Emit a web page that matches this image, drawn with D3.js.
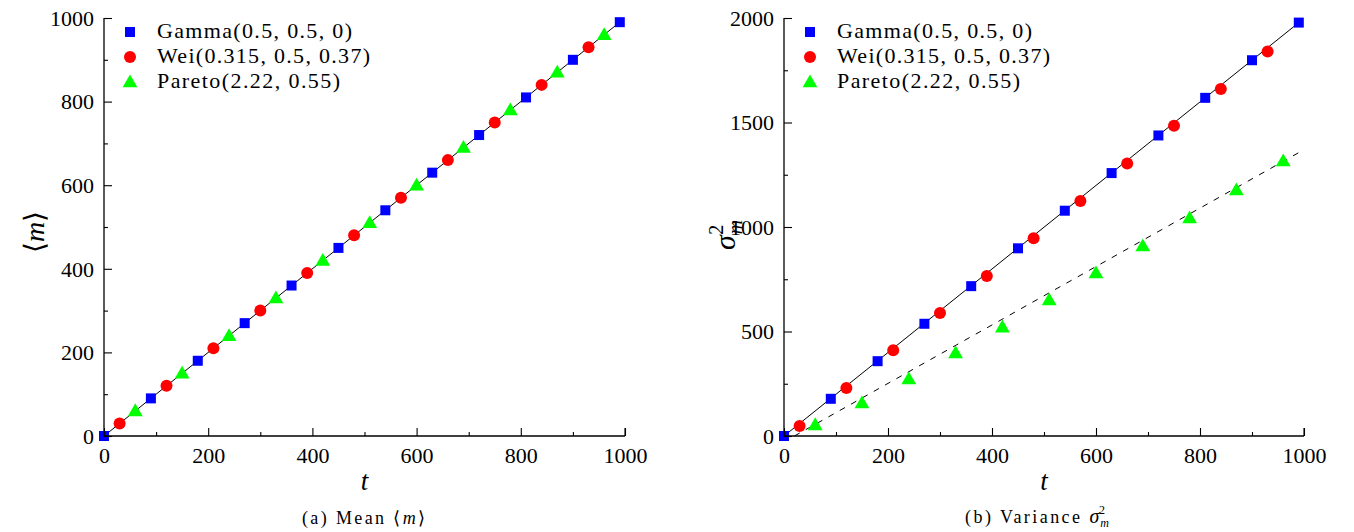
<!DOCTYPE html>
<html><head><meta charset="utf-8">
<script src="https://cdn.jsdelivr.net/npm/d3@7"></script>
<style>
body{margin:0;background:#fff;}
</style></head><body>
<svg id="c" width="1354" height="532"></svg>
<script>
// ---- data ----
const gammaT = [0, 90, 180, 270, 360, 450, 540, 630, 720, 810, 900, 990];
const weiT = [30, 120, 210, 300, 390, 480, 570, 660, 750, 840, 930];
const paretoT = [60, 150, 240, 330, 420, 510, 600, 690, 780, 870, 960];

const gammaMean = [0, 90, 180, 270, 360, 450, 540, 630, 720, 810, 900, 990];
const weiMean = [30, 120, 210, 300, 390, 480, 570, 660, 750, 840, 930];
const paretoMean = [60, 150, 240, 330, 420, 510, 600, 690, 780, 870, 960];

const gammaVar = [0, 178, 358, 537, 717, 898, 1078, 1258, 1438, 1618, 1798, 1978];
const weiVar = [48, 230, 410, 588, 766, 946, 1124, 1304, 1484, 1660, 1840];
const paretoVar = [53, 158, 273, 397, 521, 651, 780, 909, 1043, 1177, 1316];

const meanLineT = [0, 990], meanLineV = [0, 990];
const varLineT = [0, 990], varLineV = [0, 1978];
const paretoFitT = [20, 1000], paretoFitV = [0, 1370];

const xTicks = [0, 200, 400, 600, 800, 1000];
const xMinor = [100, 300, 500, 700, 900];
const meanTicks = [0, 200, 400, 600, 800, 1000];
const meanMinor = [100, 300, 500, 700, 900];
const varTicks = [0, 500, 1000, 1500, 2000];
const varMinor = [250, 750, 1250, 1750];

const legendLabels = ["Gamma(0.5, 0.5, 0)", "Wei(0.315, 0.5, 0.37)", "Pareto(2.22, 0.55)"];
const legendWidths = [195, 213, 183];
const colors = ["#0000ff", "#ff0000", "#00ff00"];

const FONT = "Liberation Serif";
const svg = d3.select("#c");

function marker(g, kind, x, y) {
  if (kind === 0) g.append("rect").attr("x", x - 5).attr("y", y - 5).attr("width", 10).attr("height", 10).attr("fill", colors[0]);
  else if (kind === 1) g.append("circle").attr("cx", x).attr("cy", y).attr("r", 6).attr("fill", colors[1]);
  else g.append("path").attr("d", d3.symbol(d3.symbolTriangle, 95)()).attr("transform", `translate(${x},${y + 1})`).attr("fill", colors[2]);
}

function panel(opt) {
  const x = d3.scaleLinear().domain([0, 1000]).range([opt.x0, opt.x1]);
  const y = d3.scaleLinear().domain([0, opt.ymax]).range([436, 18]);
  const g = svg.append("g");

  const line = d3.line().x(d => x(d[0])).y(d => y(d[1]));
  g.append("path").attr("d", line(opt.lineT.map((t, i) => [t, opt.lineV[i]])))
    .attr("fill", "none").attr("stroke", "#000").attr("stroke-width", 1);
  if (opt.fitT) {
    g.append("path").attr("d", line(opt.fitT.map((t, i) => [t, opt.fitV[i]])))
      .attr("fill", "none").attr("stroke", "#000").attr("stroke-width", 1).attr("stroke-dasharray", "6,7");
  }

  opt.series.forEach((s, k) => {
    s.t.forEach((t, i) => marker(g, k, x(t), y(s.v[i])));
  });

  const xa = g.append("g").attr("transform", "translate(0,436)")
    .call(d3.axisBottom(x).tickValues(xTicks).tickSize(-8).tickFormat(d3.format("d")));
  g.append("g").attr("transform", "translate(0,436)")
    .call(d3.axisBottom(x).tickValues(xMinor).tickSize(-4).tickFormat(""))
    .select(".domain").remove();
  const ya = g.append("g").attr("transform", `translate(${opt.x0},0)`)
    .call(d3.axisLeft(y).tickValues(opt.yTicks).tickSize(-8).tickFormat(d3.format("d")));
  g.append("g").attr("transform", `translate(${opt.x0},0)`)
    .call(d3.axisLeft(y).tickValues(opt.yMinor).tickSize(-4).tickFormat(""))
    .select(".domain").remove();
  g.selectAll(".domain").attr("stroke", "#000").attr("stroke-width", 1.3);
  g.selectAll(".tick line").attr("stroke", "#000").attr("stroke-width", 1.1);
  xa.selectAll("text").style("font-family", FONT).style("font-size", "22px").attr("dy", "0").attr("y", 27).attr("fill", "#000");
  ya.selectAll("text").style("font-family", FONT).style("font-size", "22px").attr("x", -10).attr("dy", "0.33em").attr("fill", "#000");
  xa.selectAll(".domain").attr("d", `M${opt.x0},0H${opt.x1}`);
  ya.selectAll(".domain").attr("d", `M0,436V18`);
  g.append("line").attr("x1", opt.x1).attr("x2", opt.x1).attr("y1", 436).attr("y2", 428).attr("stroke", "#000").attr("stroke-width", 1.1);

  g.append("text").attr("x", (opt.x0 + opt.x1) / 2).attr("y", 490).attr("text-anchor", "middle")
    .style("font-family", FONT).style("font-size", "27px").style("font-style", "italic").text("t");

  opt.ylabel(g);
  opt.caption(g);

  legendLabels.forEach((lab, i) => {
    const ly = 32 + i * 25;
    marker(g, i, opt.x0 + 26, ly);
    g.append("text").attr("x", opt.x0 + 53).attr("y", ly + 6)
      .attr("textLength", legendWidths[i]).attr("lengthAdjust", "spacing")
      .style("font-family", FONT).style("font-size", "22px").attr("fill", "#000").text(lab);
  });
}

panel({
  x0: 104, x1: 625, ymax: 1000, yTicks: meanTicks, yMinor: meanMinor,
  lineT: meanLineT, lineV: meanLineV,
  series: [{t: gammaT, v: gammaMean}, {t: weiT, v: weiMean}, {t: paretoT, v: paretoMean}],
  ylabel: g => {
    const t = g.append("text").attr("transform", "translate(44,232) rotate(-90)").attr("text-anchor", "middle")
      .style("font-family", FONT).style("font-size", "28px");
    t.append("tspan").text("⟨");
    t.append("tspan").style("font-style", "italic").text("m");
    t.append("tspan").text("⟩");
  },
  caption: g => {
    const t = g.append("text").attr("x", 302).attr("y", 524).attr("textLength", 123).attr("lengthAdjust", "spacing")
      .style("font-family", FONT).style("font-size", "18px");
    t.append("tspan").text("(a) Mean ⟨");
    t.append("tspan").style("font-style", "italic").text("m");
    t.append("tspan").text("⟩");
  }
});

panel({
  x0: 784, x1: 1304, ymax: 2000, yTicks: varTicks, yMinor: varMinor,
  lineT: varLineT, lineV: varLineV, fitT: paretoFitT, fitV: paretoFitV,
  series: [{t: gammaT, v: gammaVar}, {t: weiT, v: weiVar}, {t: paretoT, v: paretoVar}],
  ylabel: g => {
    const t = g.append("text").attr("transform", "translate(735,250) rotate(-90)").attr("text-anchor", "start")
      .style("font-family", FONT).style("font-size", "30px");
    t.append("tspan").style("font-style", "italic").text("σ");
    t.append("tspan").style("font-style", "italic").style("font-size", "20px").attr("dy", 7).attr("dx", 1).text("m");
    t.append("tspan").style("font-size", "20px").attr("dy", -19).attr("dx", -15).text("2");
  },
  caption: g => {
    const t = g.append("text").attr("x", 965).attr("y", 523)
      .style("font-family", FONT).style("font-size", "18px");
    t.append("tspan").attr("textLength", 122).attr("lengthAdjust", "spacing").text("(b) Variance ");
    t.append("tspan").style("font-style", "italic").style("font-size", "20px").text("σ");
    t.append("tspan").style("font-style", "italic").style("font-size", "12px").attr("dy", 4).attr("dx", 1).text("m");
    t.append("tspan").style("font-size", "12px").attr("dy", -13).attr("dx", -10).text("2");
  }
});
</script>
</body></html>
